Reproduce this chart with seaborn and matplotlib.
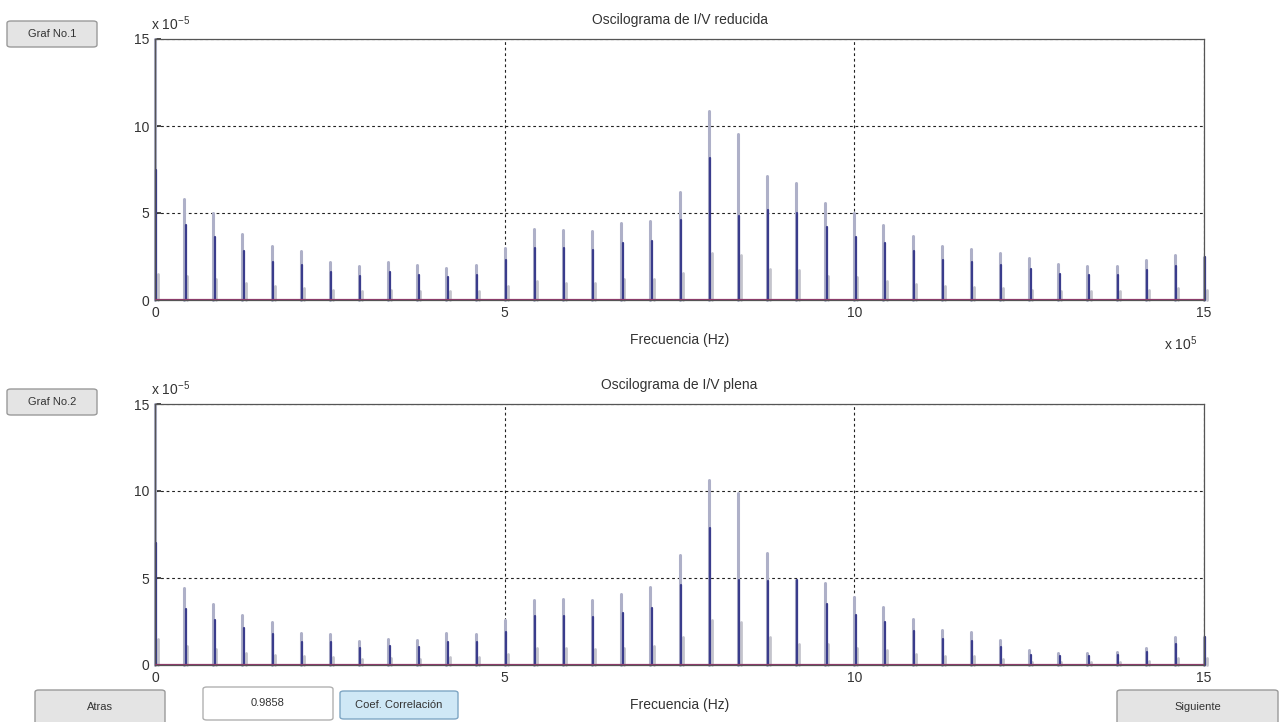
import numpy as np
import pandas as pd
import matplotlib
matplotlib.use("Agg")
import matplotlib.pyplot as plt
from matplotlib.patches import FancyBboxPatch
import seaborn as sns

# Harmonic index and frequency (units of 1e5 Hz)
harmonic = list(range(37))
freq_step = 15.0 / 36

# Spectrum amplitudes (units of 1e-5): main line, leakage line, small side line
red_main = [15.0, 5.8, 5.0, 3.8, 3.1, 2.8, 2.2, 1.95, 2.2, 2.0, 1.85, 2.0, 3.0,
            4.1, 4.0, 3.95, 4.4, 4.55, 6.2, 10.85, 9.55, 7.1, 6.7, 5.6, 5.0,
            4.3, 3.7, 3.1, 2.95, 2.7, 2.4, 2.05, 1.95, 1.95, 2.3, 2.6, 2.5]
red_blue = [7.5, 4.3, 3.6, 2.8, 2.2, 2.0, 1.6, 1.4, 1.6, 1.45, 1.3, 1.45, 2.3,
            3.0, 3.0, 2.9, 3.3, 3.4, 4.6, 8.15, 4.8, 5.2, 5.0, 4.2, 3.6,
            3.3, 2.8, 2.3, 2.2, 2.0, 1.8, 1.5, 1.45, 1.45, 1.7, 1.95, 2.5]
red_side = [1.5, 1.4, 1.2, 1.0, 0.8, 0.7, 0.6, 0.5, 0.6, 0.5, 0.5, 0.5, 0.8,
            1.1, 1.0, 1.0, 1.2, 1.2, 1.55, 2.7, 2.6, 1.8, 1.7, 1.4, 1.3,
            1.1, 0.9, 0.8, 0.75, 0.7, 0.6, 0.5, 0.5, 0.5, 0.6, 0.7, 0.6]

full_main = [15.0, 4.4, 3.5, 2.9, 2.5, 1.85, 1.8, 1.4, 1.5, 1.45, 1.85, 1.8, 2.6,
             3.75, 3.8, 3.75, 4.1, 4.5, 6.3, 10.65, 9.9, 6.45, 4.9, 4.7, 3.9,
             3.35, 2.65, 2.0, 1.9, 1.45, 0.85, 0.7, 0.7, 0.75, 1.0, 1.6, 1.6]
full_blue = [7.0, 3.2, 2.6, 2.1, 1.8, 1.35, 1.3, 1.0, 1.1, 1.05, 1.35, 1.3, 1.9,
             2.8, 2.8, 2.75, 3.0, 3.3, 4.6, 7.9, 4.9, 4.8, 4.9, 3.5, 2.9,
             2.5, 1.95, 1.5, 1.4, 1.05, 0.6, 0.5, 0.5, 0.55, 0.75, 1.2, 1.6]
full_side = [1.5, 1.1, 0.9, 0.7, 0.6, 0.5, 0.45, 0.35, 0.4, 0.35, 0.45, 0.45, 0.65,
             0.95, 0.95, 0.9, 1.0, 1.1, 1.6, 2.6, 2.5, 1.6, 1.2, 1.2, 1.0,
             0.85, 0.65, 0.5, 0.5, 0.35, 0.2, 0.2, 0.2, 0.2, 0.25, 0.4, 0.4]

x_ticks = [0, 5, 10, 15]
y_ticks = [0, 5, 10, 15]
titles = ["Oscilograma de I/V reducida", "Oscilograma de I/V plena"]
x_label = "Frecuencia (Hz)"
corr_value = "0.9858"

sns.set_theme(style="white")
plt.rcParams["font.family"] = ["Liberation Sans", "DejaVu Sans"]
plt.rcParams["mathtext.default"] = "regular"

fig = plt.figure(figsize=(12.79, 7.22), dpi=100)
fig.patch.set_facecolor("white")

W, H = 1279, 722
def fx(px):
    return px / W
def fy(py):
    return 1 - py / H

ax_top = fig.add_axes([fx(155), fy(300), fx(1204) - fx(155), fy(39) - fy(300)])
ax_bot = fig.add_axes([fx(155), fy(665), fx(1204) - fx(155), fy(404) - fy(665)])


def stems(values, offset):
    rows = []
    for k, v in zip(harmonic, values):
        f = k * freq_step + offset
        rows.append({"f": f, "a": 0.0, "k": k})
        rows.append({"f": f, "a": v, "k": k})
    return pd.DataFrame(rows)


def draw_spectrum(ax, main, blue, side, title):
    sns.lineplot(data=stems(main, 0.0), x="f", y="a", units="k", estimator=None,
                 sort=False, color="#aeb0c8", lw=2.2, ax=ax, legend=False,
                 clip_on=False)
    sns.lineplot(data=stems(side, 0.045), x="f", y="a", units="k", estimator=None,
                 sort=False, color="#c4c4cc", lw=2.0, ax=ax, legend=False,
                 clip_on=False)
    sns.lineplot(data=stems(blue, 0.02), x="f", y="a", units="k", estimator=None,
                 sort=False, color="#3a3c8c", lw=1.6, ax=ax, legend=False,
                 clip_on=False)
    ax.axhline(0, color="#8c3c6a", lw=1.6, zorder=5)
    ax.set_xlim(0, 15)
    ax.set_ylim(0, 15)
    ax.set_xticks(x_ticks)
    ax.set_yticks(y_ticks)
    ax.set_xticklabels([str(t) for t in x_ticks])
    ax.set_yticklabels([str(t) for t in y_ticks])
    ax.grid(True, color="#222222", linestyle=(0, (2.5, 2.5)), lw=0.8)
    ax.tick_params(direction="in", length=4, labelsize=10, colors="#333333",
                   bottom=True, left=True, top=False, right=False, pad=4)
    for s in ax.spines.values():
        s.set_visible(True)
        s.set_color("#555555")
        s.set_linewidth(0.9)
    ax.set_title(title, fontsize=10, color="#333333", pad=11)
    ax.set_xlabel(x_label, fontsize=10, color="#333333", labelpad=10)
    ax.set_ylabel("")
    ax.text(-0.004, 1.022, r"x 10$^{-5}$", transform=ax.transAxes,
            fontsize=10, color="#333333", ha="left", va="bottom")


draw_spectrum(ax_top, red_main, red_blue, red_side, titles[0])
draw_spectrum(ax_bot, full_main, full_blue, full_side, titles[1])
ax_top.text(0.978, -0.13, r"x 10$^{5}$", transform=ax_top.transAxes,
            fontsize=10, color="#333333", ha="center", va="top")


def button(x0, y0, x1, y1, label, face="#e4e4e4", edge="#9a9a9a", size=8):
    box = FancyBboxPatch((fx(x0), fy(y1)), fx(x1) - fx(x0), fy(y0) - fy(y1),
                         boxstyle="round,pad=0,rounding_size=0.003",
                         transform=fig.transFigure, facecolor=face,
                         edgecolor=edge, lw=1.0)
    fig.patches.append(box)
    fig.text(fx((x0 + x1) / 2), fy((y0 + y1) / 2), label, ha="center",
             va="center", fontsize=size, color="#333333")


button(7, 21, 97, 47, "Graf No.1")
button(7, 389, 97, 415, "Graf No.2")
button(35, 690, 165, 724, "Atras")
button(203, 687, 333, 720, corr_value, face="white", edge="#b0b0b0")
button(340, 691, 458, 719, "Coef. Correlación", face="#cfe8f6", edge="#7ea6c4")
button(1117, 690, 1278, 724, "Siguiente")

fig.savefig("out.png", dpi=100, facecolor="white")
